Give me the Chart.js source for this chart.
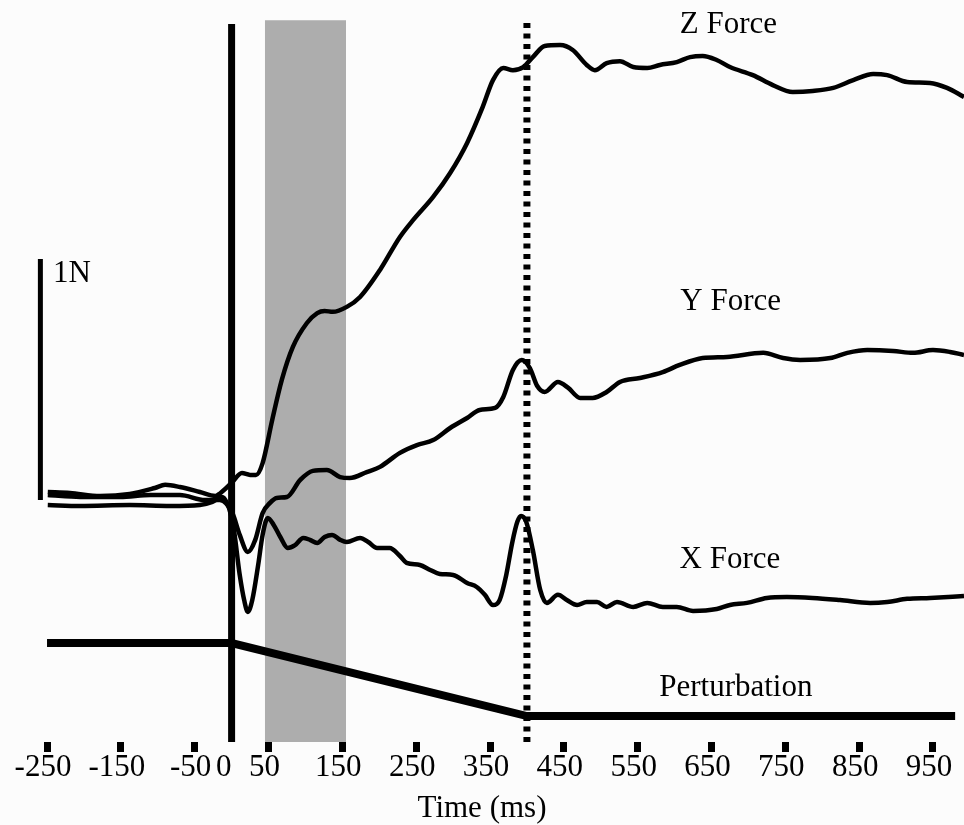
<!DOCTYPE html>
<html>
<head>
<meta charset="utf-8">
<script src="https://cdn.jsdelivr.net/npm/chart.js@4.4.1/dist/chart.umd.min.js"></script>
<style>
    html, body { margin: 0; padding: 0; background: #fcfcfc; }
    .content { width: 964px; height: 825px; position: relative; }
</style>
</head>
<body>
<div class="content"><canvas id="force-chart"></canvas></div>
<script>
// time (ms) and force (N)
const zTime = [-249, -219, -178, -138, -104, -90, -70, -43, -22, -15, 0, 14, 25, 33, 42, 55, 68, 83, 102, 116, 126, 137, 156, 174, 201, 228, 246, 273, 296, 319, 340, 354, 368, 381, 395, 408, 424, 445, 462, 481, 492, 508, 526, 544, 563, 580, 603, 621, 638, 657, 675, 706, 733, 760, 787, 815, 842, 869, 888, 915, 946, 969, 992]
const zForce = [0.021, 0.017, 0.004, 0.013, 0.038, 0.051, 0.042, 0.021, 0.004, 0.017, 0.060, 0.101, 0.093, 0.093, 0.143, 0.325, 0.494, 0.633, 0.734, 0.776, 0.785, 0.781, 0.802, 0.844, 0.958, 1.097, 1.169, 1.266, 1.367, 1.494, 1.645, 1.759, 1.810, 1.801, 1.814, 1.856, 1.903, 1.907, 1.886, 1.823, 1.801, 1.831, 1.839, 1.814, 1.810, 1.823, 1.835, 1.856, 1.861, 1.844, 1.814, 1.780, 1.738, 1.709, 1.713, 1.726, 1.759, 1.785, 1.780, 1.751, 1.747, 1.726, 1.688]

const yTime = [-249, -205, -151, -110, -70, -36, -16, 1, 11, 22, 32, 42, 52, 61, 75, 93, 110, 129, 147, 160, 183, 201, 228, 251, 273, 296, 319, 336, 357, 368, 381, 393, 404, 414, 424, 442, 456, 472, 489, 508, 526, 553, 584, 607, 638, 671, 720, 747, 770, 811, 834, 861, 896, 923, 950, 973, 992]
const yForce = [0.008, 0, 0, 0.008, 0.008, -0.013, -0.013, -0.068, -0.160, -0.232, -0.181, -0.068, -0.025, -0.004, 0, 0.072, 0.110, 0.114, 0.084, 0.080, 0.105, 0.127, 0.186, 0.219, 0.240, 0.291, 0.333, 0.367, 0.376, 0.422, 0.536, 0.578, 0.544, 0.468, 0.443, 0.485, 0.460, 0.418, 0.418, 0.443, 0.485, 0.502, 0.527, 0.557, 0.586, 0.591, 0.608, 0.586, 0.578, 0.586, 0.608, 0.620, 0.616, 0.608, 0.620, 0.612, 0.599]

const xTime = [-249, -205, -138, -83, -43, -26, -13, 2, 11, 17, 22, 28, 36, 42, 49, 57, 66, 76, 86, 97, 106, 116, 126, 136, 147, 156, 174, 185, 197, 214, 228, 237, 255, 269, 282, 300, 319, 332, 343, 354, 363, 372, 380, 387, 392, 399, 408, 418, 427, 442, 454, 468, 481, 495, 508, 522, 544, 563, 584, 603, 625, 657, 675, 698, 725, 752, 787, 824, 865, 888, 915, 946, 992]
const xForce = [-0.034, -0.038, -0.034, -0.038, -0.034, -0.021, 0, -0.118, -0.329, -0.435, -0.485, -0.435, -0.287, -0.160, -0.089, -0.118, -0.169, -0.215, -0.203, -0.173, -0.181, -0.194, -0.169, -0.160, -0.181, -0.190, -0.173, -0.190, -0.215, -0.215, -0.249, -0.278, -0.287, -0.308, -0.325, -0.329, -0.363, -0.380, -0.413, -0.456, -0.435, -0.329, -0.194, -0.105, -0.080, -0.105, -0.224, -0.392, -0.447, -0.413, -0.435, -0.456, -0.443, -0.443, -0.464, -0.443, -0.464, -0.447, -0.464, -0.464, -0.481, -0.473, -0.456, -0.447, -0.426, -0.422, -0.426, -0.435, -0.447, -0.443, -0.430, -0.426, -0.418]

// perturbation (normalised displacement)
const pertTime = [-250, 0, 400, 980]
const pertValue = [0, 0, -1, -1]

const tickValues = [-250, -150, -50, 0, 50, 150, 250, 350, 450, 550, 650, 750, 850, 950]
const tickLabels = ['-250', '-150', '-50', '0', '50', '150', '250', '350', '450', '550', '650', '750', '850', '950']

const onsetTime = 0
const releaseTime = 400
const windowStart = 45
const windowEnd = 155
const scaleBarTime = -259

const serif = "'Liberation Serif', 'Times New Roman', serif"

function toPoints(times, values) {
    return times.map((t, i) => ({x: t, y: values[i]}))
}

const traceStyle = {
    borderColor: '#000',
    borderWidth: 4.5,
    pointRadius: 0,
    fill: false,
    cubicInterpolationMode: 'monotone'
}

const plainLine = {
    borderColor: '#000',
    pointRadius: 0,
    fill: false,
    tension: 0
}

const yMin = -1.034
const yMax = 2.097

const labelSpots = [
    {text: 'Z Force', x: 673, y: 1.958, align: 'center'},
    {text: 'Y Force', x: 676, y: 0.789, align: 'center'},
    {text: 'X Force', x: 675, y: -0.300, align: 'center'},
    {text: 'Perturbation', x: 683, y: -0.840, align: 'center'},
    {text: '1N', x: -242, y: 0.907, align: 'left'}
]

const curveLabels = {
    id: 'curveLabels',
    afterDatasetsDraw(chart) {
        const {ctx, scales: {x, y}} = chart
        ctx.save()
        ctx.fillStyle = '#000'
        ctx.font = '31px ' + serif
        ctx.textBaseline = 'alphabetic'
        labelSpots.forEach(spot => {
            ctx.textAlign = spot.align
            ctx.fillText(spot.text, x.getPixelForValue(spot.x), y.getPixelForValue(spot.y))
        })
        ctx.restore()
    }
}

const forceChart = new Chart(document.getElementById('force-chart'), {
    type: 'line',
    data: {
        datasets: [
            {label: 'Z Force', data: toPoints(zTime, zForce), ...traceStyle},
            {label: 'Y Force', data: toPoints(yTime, yForce), ...traceStyle},
            {label: 'X Force', data: toPoints(xTime, xForce), ...traceStyle},
            {label: 'Perturbation', data: toPoints(pertTime, pertValue), yAxisID: 'yp', ...plainLine, borderWidth: 8},
            {label: 'onset', data: [{x: onsetTime, y: yMin}, {x: onsetTime, y: 1.996}], ...plainLine, borderWidth: 7},
            {label: 'release', data: [{x: releaseTime, y: yMin}, {x: releaseTime, y: 2.0}], ...plainLine, borderWidth: 7, borderDash: [5, 5.5]},
            {label: '1N', data: [{x: scaleBarTime, y: -0.013}, {x: scaleBarTime, y: 1.004}], ...plainLine, borderWidth: 5},
            {
                label: 'window',
                data: [{x: windowStart, y: 2.012}, {x: windowEnd, y: 2.012}],
                ...plainLine,
                borderWidth: 0,
                fill: 'start',
                backgroundColor: '#adadad',
                order: 10
            }
        ]
    },
    options: {
        responsive: true,
        maintainAspectRatio: false,
        animation: false,
        layout: {padding: 0},
        plugins: {
            legend: {display: false},
            tooltip: {enabled: false}
        },
        scales: {
            x: {
                type: 'linear',
                min: -313.7,
                max: 992,
                afterBuildTicks: scale => {
                    scale.ticks = tickValues.map(v => ({value: v}))
                },
                afterFit: scale => {
                    scale.height = 83
                },
                border: {display: false},
                grid: {
                    drawOnChartArea: false,
                    drawTicks: true,
                    tickLength: 10,
                    tickWidth: 7,
                    tickColor: ctx => (ctx.tick && ctx.tick.value === 0) ? 'rgba(0,0,0,0)' : '#000'
                },
                ticks: {
                    autoSkip: false,
                    maxRotation: 0,
                    padding: 0,
                    labelOffset: -4,
                    color: '#000',
                    font: {family: serif, size: 31, lineHeight: 1},
                    // the "0" label sits a little left of the onset line in the figure
                    callback: (value, index) => value === 0 ? tickLabels[index] + ' ' : tickLabels[index]
                },
                title: {
                    display: true,
                    text: 'Time (ms)',
                    color: '#000',
                    font: {family: serif, size: 31, lineHeight: 1},
                    padding: {top: 0, bottom: 1}
                }
            },
            y: {
                display: false,
                min: yMin,
                max: yMax
            },
            yp: {
                display: false,
                min: -1.356,
                max: 8.808
            }
        }
    },
    plugins: [curveLabels]
})
</script>
</body>
</html>
